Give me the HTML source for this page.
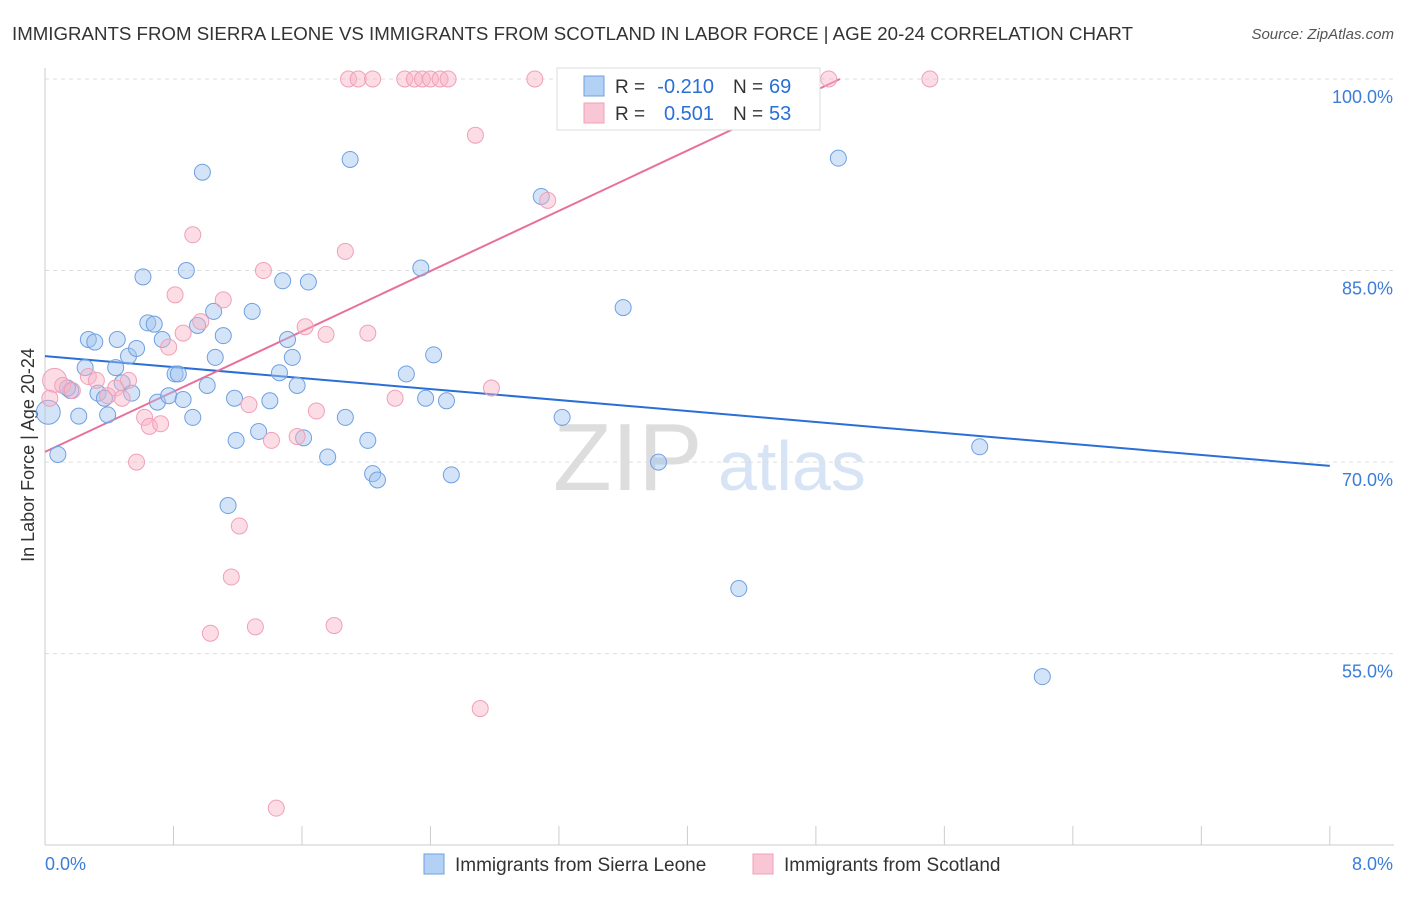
<!DOCTYPE html>
<html><head><meta charset="utf-8"><style>
body{margin:0;background:#fff;font-family:"Liberation Sans",sans-serif;}
svg text{font-family:"Liberation Sans",sans-serif;}
</style></head><body>
<svg width="1406" height="892" id="c">
<text x="12" y="40" font-size="18" fill="#333" textLength="1121" lengthAdjust="spacingAndGlyphs">IMMIGRANTS FROM SIERRA LEONE VS IMMIGRANTS FROM SCOTLAND IN LABOR FORCE | AGE 20-24 CORRELATION CHART</text>
<text x="1394" y="39" font-size="15" fill="#555" text-anchor="end" font-style="italic">Source: ZipAtlas.com</text>
<text x="553" y="490" font-size="96" fill="#ddd" font-family="Liberation Serif">ZIP</text>
<text x="718" y="490" font-size="70" fill="#d6e4f5">atlas</text>
<text x="34" y="455" font-size="18" fill="#333" text-anchor="middle" transform="rotate(-90 34 455)">In Labor Force | Age 20-24</text>
<g id="grid"></g><g id="axes"></g><g id="lines"></g><g id="pts"></g>
<g>
<rect x="557" y="68" width="263" height="62" fill="#fff" stroke="#ddd"/>
<rect x="584" y="76" width="20" height="20" fill="#b3d0f5" stroke="#6fa0e0"/>
<rect x="584" y="103" width="20" height="20" fill="#f9c6d5" stroke="#f0a0b8"/>
<text x="615" y="93" font-size="19" fill="#333">R =</text>
<text x="714" y="93" font-size="20" fill="#2a6fd6" text-anchor="end">-0.210</text>
<text x="733" y="93" font-size="19" fill="#333">N =</text>
<text x="769" y="93" font-size="20" fill="#2a6fd6">69</text>
<text x="615" y="120" font-size="19" fill="#333">R =</text>
<text x="714" y="120" font-size="20" fill="#2a6fd6" text-anchor="end">0.501</text>
<text x="733" y="120" font-size="19" fill="#333">N =</text>
<text x="769" y="120" font-size="20" fill="#2a6fd6">53</text>
</g>
<g>
<rect x="424" y="854" width="20" height="20" fill="#b3d0f5" stroke="#6fa0e0"/>
<text x="455" y="871" font-size="19" fill="#333">Immigrants from Sierra Leone</text>
<rect x="753" y="854" width="20" height="20" fill="#f9c6d5" stroke="#f0a0b8"/>
<text x="784" y="871" font-size="19" fill="#333">Immigrants from Scotland</text>
</g>
</svg>
<script>
const blueX=[0.02,0.08,0.16,0.21,0.14,0.25,0.27,0.31,0.33,0.37,0.39,0.44,0.45,0.48,0.52,0.54,0.57,0.61,0.64,0.68,0.70,0.73,0.77,0.81,0.83,0.86,0.88,0.92,0.95,0.98,1.01,1.05,1.06,1.11,1.14,1.18,1.19,1.29,1.33,1.40,1.46,1.48,1.51,1.54,1.57,1.61,1.64,1.76,1.87,1.90,2.01,2.04,2.07,2.25,2.34,2.37,2.42,2.50,2.53,3.09,3.22,3.60,3.82,4.32,4.94,5.82,6.21];
const blueY=[73.9,70.6,75.6,73.6,75.8,77.4,79.6,79.4,75.4,75.0,73.7,77.4,79.6,76.2,78.3,75.4,78.9,84.5,80.9,80.8,74.7,79.6,75.2,76.9,76.9,74.9,85.0,73.5,80.7,92.7,76.0,81.8,78.2,79.9,66.6,75.0,71.7,81.8,72.4,74.8,77.0,84.2,79.6,78.2,76.0,71.9,84.1,70.4,73.5,93.7,71.7,69.1,68.6,76.9,85.2,75.0,78.4,74.8,69.0,90.8,73.5,82.1,70.0,60.1,93.8,71.2,53.2];
const pinkX=[0.06,0.03,0.11,0.17,0.27,0.32,0.39,0.44,0.48,0.52,0.57,0.62,0.65,0.72,0.77,0.81,0.86,0.92,0.97,1.03,1.11,1.16,1.21,1.27,1.31,1.36,1.41,1.44,1.57,1.62,1.69,1.75,1.80,1.87,1.89,1.95,2.01,2.04,2.18,2.24,2.30,2.35,2.40,2.46,2.51,2.68,2.71,2.78,3.05,3.13,4.88,5.51];
const pinkY=[76.4,75.0,76.0,75.6,76.7,76.4,75.2,75.8,75.0,76.4,70.0,73.5,72.8,73.0,79.0,83.1,80.1,87.8,81.0,56.6,82.7,61.0,65.0,74.5,57.1,85.0,71.7,42.9,72.0,80.6,74.0,80.0,57.2,86.5,100,100,80.1,100,75.0,100,100,100,100,100,100,95.6,50.7,75.8,100,90.5,100,100];
const blueTrend=[[0,78.3],[8,69.7]];
const pinkTrend=[[0,70.8],[4.95,100]];
const yTicks=[100,85,70,55];
const yTickLabels=["100.0%","85.0%","70.0%","55.0%"];
const xTicks=[0,0.8,1.6,2.4,3.2,4.0,4.8,5.6,6.4,7.2,8.0];
const NS="http://www.w3.org/2000/svg";
const sx=v=>45+v*160.6, sy=v=>79+(100-v)*12.77;
function mk(t,a,p){const e=document.createElementNS(NS,t);for(const k in a)e.setAttribute(k,a[k]);document.getElementById(p).appendChild(e);return e;}
yTicks.forEach((t,i)=>{
 const l=mk('line',{x1:45,x2:1394,y1:sy(t),y2:sy(t),stroke:'#ddd','stroke-dasharray':'4,4'},'grid');
 
 
 const tx=mk('text',{x:1393,y:sy(t)+24,'font-size':18,fill:'#3b7dd8','text-anchor':'end'},'grid');
 tx.textContent=yTickLabels[i];
 
 
});
const ax=mk('line',{x1:45,x2:45,y1:68,y2:845,stroke:'#ccc'},'axes');


const bx=mk('line',{x1:45,x2:1394,y1:845,y2:845,stroke:'#ccc'},'axes');


xTicks.forEach(t=>{const l=mk('line',{x1:sx(t),x2:sx(t),y1:826,y2:845,stroke:'#ccc'},'axes');
 
 });
const x0=mk('text',{x:45,y:870,'font-size':18,fill:'#3b7dd8'},'axes');x0.textContent='0.0%';


const x1=mk('text',{x:1393,y:870,'font-size':18,fill:'#3b7dd8','text-anchor':'end'},'axes');x1.textContent='8.0%';


function pts(X,Y,fill,stroke,name){X.forEach((x,i)=>{const c=mk('circle',{cx:sx(x),cy:sy(Y[i]),r:i===0?12:8,fill:fill,stroke:stroke,'stroke-width':1},'pts');
 
 });}
pts(blueX,blueY,'rgba(160,196,240,0.45)','#6fa0e0','sierra-leone-point');
pts(pinkX,pinkY,'rgba(248,180,200,0.45)','#f0a0b8','scotland-point');
const bl=mk('line',{x1:sx(blueTrend[0][0]),y1:sy(blueTrend[0][1]),x2:sx(blueTrend[1][0]),y2:sy(blueTrend[1][1]),stroke:'#2a6fd6','stroke-width':2},'lines');


const pl=mk('line',{x1:sx(pinkTrend[0][0]),y1:sy(pinkTrend[0][1]),x2:sx(pinkTrend[1][0]),y2:sy(pinkTrend[1][1]),stroke:'#e8709a','stroke-width':2},'lines');


</script>
</body></html>
